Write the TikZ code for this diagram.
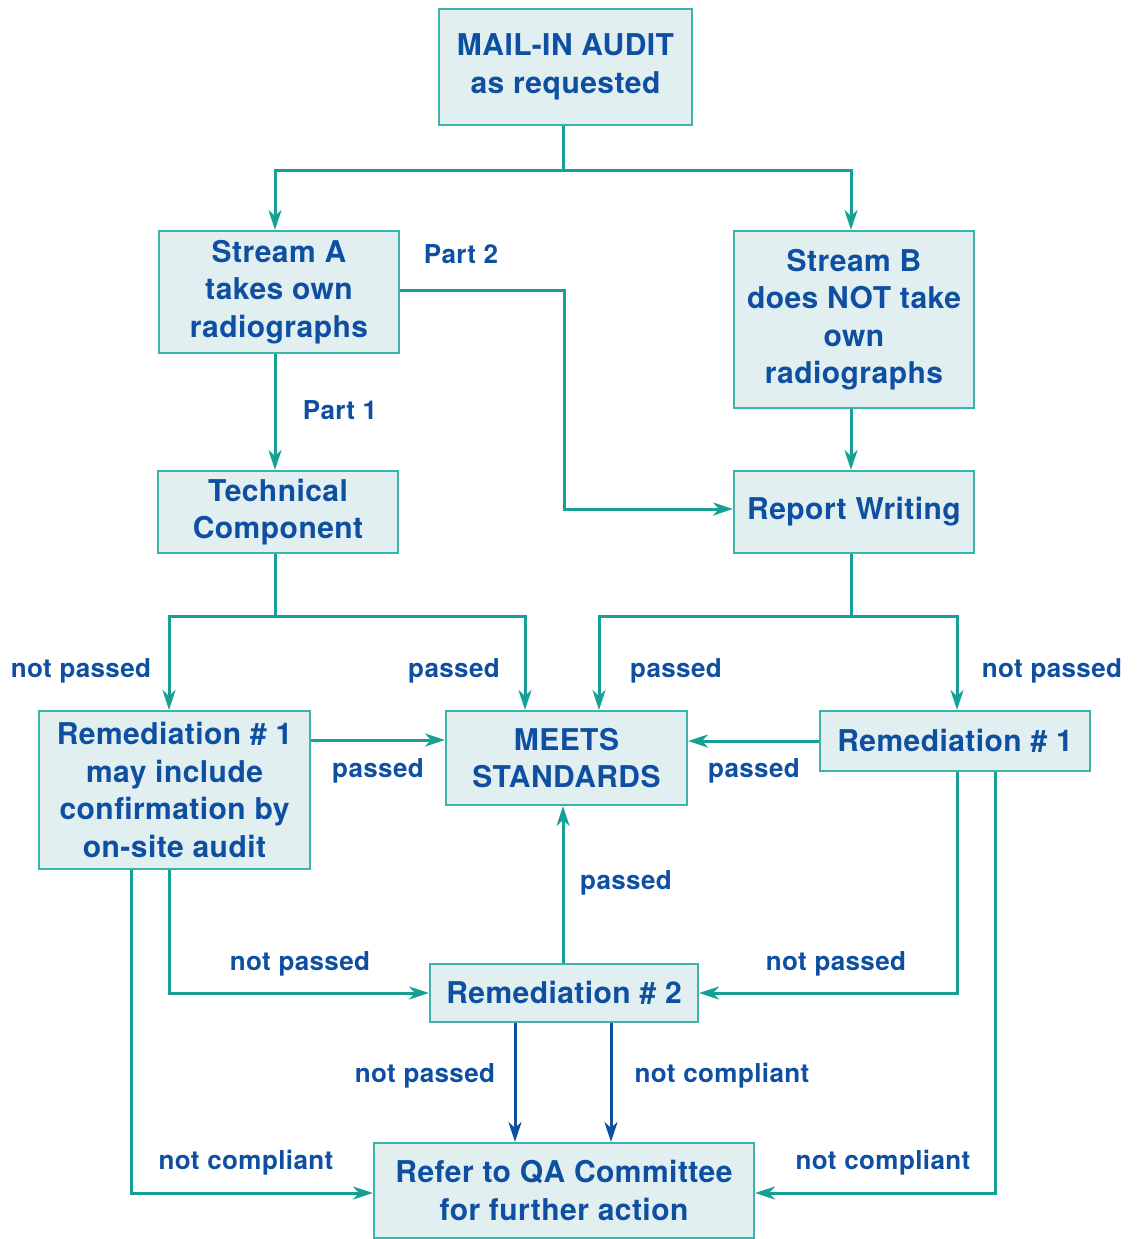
\documentclass[tikz,border=0pt]{standalone}
\usepackage{fontspec}
\setmainfont{TeX Gyre Heros}[LetterSpace=1.5]
\usetikzlibrary{arrows.meta, calc}
\definecolor{tealline}{HTML}{16A096}
\definecolor{tealedge}{HTML}{3DB4AA}
\definecolor{boxfill}{HTML}{E1EFF0}
\definecolor{textblue}{HTML}{0E4FA2}

\begin{document}
\begin{tikzpicture}[x=1pt, y=1pt, >={Stealth[length=20pt, width=13pt, inset=6pt]}]
			\tikzstyle{box}=[
			draw=tealedge,
			line width=2pt,
			fill=boxfill,
			rectangle,
			inner sep=0pt,
			align=center,
			text=textblue,
			font=\bfseries\fontsize{30}{37.5}\selectfont]
			\tikzstyle{lbl}=[
			inner sep=0pt,
			text=textblue,
			font=\bfseries\fontsize{26}{30}\selectfont]
			\tikzstyle{link}=[tealline, line width=3pt]
			\tikzstyle{blue link}=[textblue, line width=3pt]
			\useasboundingbox (0,0) rectangle (1138,-1239);
			\node[box, minimum width=253pt, minimum height=116pt] (mail) at (565.5,-67) {MAIL-IN AUDIT\\as requested};
			\node[box, minimum width=240pt, minimum height=122pt] (streamA) at (279,-292) {Stream A\\takes own\\radiographs};
			\node[box, minimum width=240pt, minimum height=177pt] (streamB) at (854,-319.5) {Stream B\\does NOT take\\own\\radiographs};
			\node[box, minimum width=240pt, minimum height=82pt] (tech) at (278,-512) {Technical\\Component};
			\node[box, minimum width=240pt, minimum height=82pt] (report) at (854,-512) {Report Writing};
			\node[box, minimum width=271pt, minimum height=158pt] (remL) at (174.5,-790) {Remediation \# 1\\may include\\confirmation by\\on-site audit};
			\node[box, minimum width=241pt, minimum height=94pt] (meets) at (566.5,-758) {MEETS\\STANDARDS};
			\node[box, minimum width=270pt, minimum height=60pt] (remR) at (955,-741) {Remediation \# 1};
			\node[box, minimum width=268pt, minimum height=58pt] (remTwo) at (564,-993) {Remediation \# 2};
			\node[box, minimum width=380pt, minimum height=95pt] (qa) at (564,-1190.5) {Refer to QA Committee\\for further action};
			%
			\node[lbl] (partTwo) at (461,-254) {Part 2};
			\node[lbl] (partOne) at (340,-410) {Part 1};
			\node[lbl] (techFail) at (81,-671) {not passed};
			\node[lbl] (techPass) at (454,-671) {passed};
			\node[lbl] (reportPass) at (676,-671) {passed};
			\node[lbl] (reportFail) at (1052,-671) {not passed};
			\node[lbl] (remLPass) at (378,-771) {passed};
			\node[lbl] (remRPass) at (754,-771) {passed};
			\node[lbl] (remTwoPass) at (626,-883) {passed};
			\node[lbl] (remLFail) at (300,-964) {not passed};
			\node[lbl] (remRFail) at (836,-964) {not passed};
			\node[lbl] (remTwoFail) at (425,-1076) {not passed};
			\node[lbl] (remTwoNC) at (722,-1076) {not compliant};
			\node[lbl] (remLNC) at (246,-1163) {not compliant};
			\node[lbl] (remRNC) at (883,-1163) {not compliant};
			%
			\coordinate (mailSplit) at ($(mail.south)+(-2.5,-44)$);
			\coordinate (techSplit) at ($(tech.south)+(-3,-62)$);
			\coordinate (reportSplit) at ($(report.south)+(-3,-62)$);
			\draw[link] (mail.south -| mailSplit) -- (mailSplit);
			\draw[link, ->] (mailSplit) -| ([xshift=-4pt]streamA.north);
			\draw[link, ->] (mailSplit) -| ([xshift=-3pt]streamB.north);
			\draw[link, ->] ([yshift=2pt]streamA.east) -- ++(164,0) |- ([yshift=3pt]report.west);
			\draw[link, ->] ([xshift=-4pt]streamA.south) -- ([xshift=-4pt]streamA.south |- tech.north);
			\draw[link, ->] ([xshift=-3pt]streamB.south) -- ([xshift=-3pt]report.north);
			\draw[link] (techSplit |- tech.south) -- (techSplit);
			\draw[link, ->] (techSplit) -| ([xshift=-5.5pt]remL.north);
			\draw[link, ->] (techSplit) -| ([xshift=-41.5pt]meets.north);
			\draw[link] (reportSplit |- report.south) -- (reportSplit);
			\draw[link, ->] (reportSplit) -| ([xshift=32.5pt]meets.north);
			\draw[link, ->] (reportSplit) -| ([xshift=2pt]remR.north);
			\draw[link, ->] ([yshift=50pt]remL.east) -- ([yshift=50pt]remL.east -| meets.west);
			\draw[link, ->] (remR.west) -- (remR.west -| meets.east);
			\draw[link, ->] ([xshift=-1pt]remTwo.north) -- ([xshift=-1pt]remTwo.north |- meets.south);
			\draw[link, ->] ([xshift=-5.5pt]remL.south) |- (remTwo.west);
			\draw[link, ->] ([xshift=2pt]remR.south) |- (remTwo.east);
			\draw[link, ->] ([xshift=-43.5pt]remL.south) |- ([yshift=-2.5pt]qa.west);
			\draw[link, ->] ([xshift=40pt]remR.south) |- ([yshift=-2.5pt]qa.east);
			\draw[blue link, ->] ([xshift=-49pt]remTwo.south) -- ([xshift=-49pt]remTwo.south |- qa.north);
			\draw[blue link, ->] ([xshift=47pt]remTwo.south) -- ([xshift=47pt]remTwo.south |- qa.north);
		\end{tikzpicture}
\end{document}
